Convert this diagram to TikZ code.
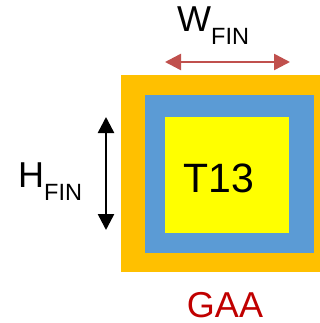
\documentclass[tikz,border=0pt]{standalone}
\usepackage{fontspec}
\setmainfont{Liberation Sans}
\usetikzlibrary{arrows.meta,calc}
\definecolor{gateorange}{HTML}{FFC000}
\definecolor{oxideblue}{HTML}{5B9BD5}
\definecolor{coreyellow}{HTML}{FFFF00}
\definecolor{arrowred}{HTML}{C0504D}
\definecolor{gaared}{HTML}{C00000}
\newcommand{\biglbl}{\fontsize{36}{40}\selectfont}
\newcommand{\sublbl}{\fontsize{23.5}{26}\selectfont}
\begin{document}
\begin{tikzpicture}[x=1pt,y=-1pt,
    layer/.style={inner sep=0pt, outer sep=0pt},
    lbl/.style={inner sep=0pt, font=\biglbl},
    dimarrow/.style={line width=2.5pt, {Triangle[length=16pt,width=16pt]}-{Triangle[length=16pt,width=16pt]}}]

        % 1. Cornice e strati concentrici
        \useasboundingbox (0,0) rectangle (320,323);
        \node[layer, fill=gateorange, minimum width=199pt, minimum height=197pt] (gate) at (220.5,173.5) {};
        \node[layer, fill=oxideblue, minimum width=169pt, minimum height=158pt] (oxide) at (229.5,174) {};
        \node[layer, fill=coreyellow, minimum width=124pt, minimum height=116pt] (core) at (227,175) {};

        % 2. Quote con frecce
        \coordinate (wleft) at ($(core.north west)+(0,-55)$);
        \coordinate (wright) at ($(core.north east)+(1,-55)$);
        \draw[dimarrow, arrowred] (wleft) -- (wright);
        \coordinate (htop) at ($(core.north west)+(-59,0)$);
        \coordinate (hbottom) at ($(core.south west)+(-59,-3)$);
        \draw[dimarrow, black] (htop) -- (hbottom);

        % 3. Etichette
        \node[lbl, anchor=base west] (wfin) at (177,32) {W\raisebox{-13pt}{\sublbl FIN}};
        \node[lbl, anchor=base west] (hfin) at (18,187) {H\raisebox{-13pt}{\sublbl FIN}};
        \node[lbl, anchor=base, font=\fontsize{41}{44}\selectfont] (tlabel) at (218.5,192) {T13};
        \node[lbl, anchor=base, text=gaared] (gaa) at (225,317) {GAA};

    \end{tikzpicture}
\end{document}
